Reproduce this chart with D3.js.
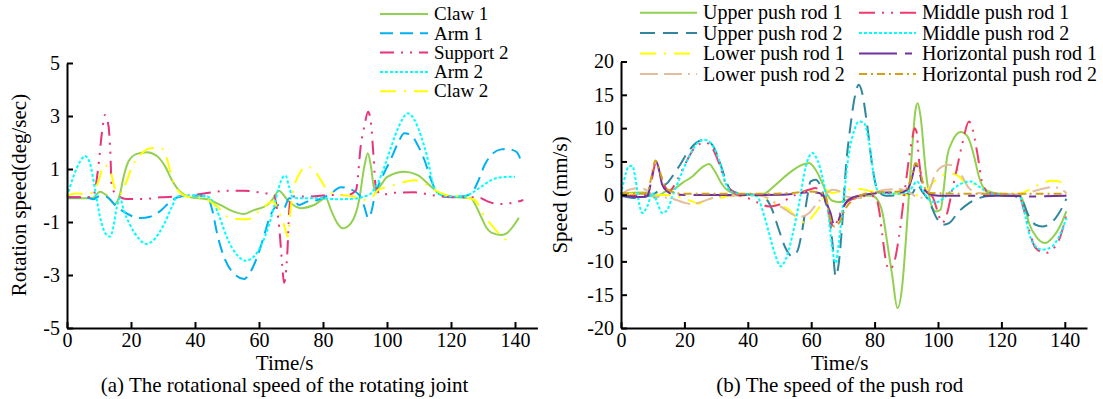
<!DOCTYPE html>
<html><head><meta charset="utf-8">
<script src="https://cdn.jsdelivr.net/npm/d3@7"></script>
<style>
body{margin:0;background:#fff}
svg{display:block}
text{font-family:"Liberation Serif","Times New Roman",serif;fill:#000}
</style>
</head><body>
<svg id="c" width="1103" height="399"></svg>
<script>
// ---------- DATA: (a) rotational speed of rotating joints, [time s, deg/sec] ----------
const leftNames = ["Claw 1", "Arm 1", "Support 2", "Arm 2", "Claw 2"];
const leftXTicks = [0, 20, 40, 60, 80, 100, 120, 140];
const leftYTicks = [-5, -3, -1, 1, 3, 5];

const claw1 = [[0,-0.1],[8,-0.1],[10.3,0.14],[12,0.04],[15,-0.32],[16.6,0.08],[17.7,0.71],[19.2,1.28],[21.8,1.57],[25,1.63],[28.1,1.49],[30.7,1.09],[32.8,0.58],[35.4,0.14],[38.6,-0.07],[43.8,-0.14],[48,-0.36],[52.1,-0.61],[55.3,-0.7],[58.4,-0.55],[62.6,-0.36],[64.5,-0.1],[66.2,0.18],[68.9,-0.17],[71.5,-0.42],[73,-0.48],[77.2,-0.36],[80.9,-0.1],[82.5,-0.55],[84.5,-1.05],[86.1,-1.24],[88.7,-1.05],[91.3,-0.17],[92.9,1.09],[94,1.59],[95,1.09],[96.1,0.21],[97.1,0.27],[100.2,0.71],[105.4,0.9],[109.6,0.77],[113.8,0.33],[116.9,0.04],[122.1,-0.07],[126.3,-0.1],[127.4,-0.3],[129.4,-0.8],[131,-1.2],[132.6,-1.4],[135.7,-1.49],[137.5,-1.42],[139.5,-1.15],[141.2,-0.84]];
const arm1 = [[0,-0.07],[6,-0.07],[8.3,-0.14],[9.8,-0.04],[12,-0.04],[13.5,-0.15],[15,-0.36],[17.7,-0.61],[20.8,-0.8],[22.9,-0.85],[26,-0.8],[29.2,-0.58],[32.3,-0.23],[35.4,-0.04],[39.6,0],[43.8,-0.04],[45.4,-0.55],[46.9,-1.43],[49,-2.3],[52.1,-2.94],[55.3,-3.15],[57.4,-2.87],[59.5,-2.3],[61.5,-1.55],[63.6,-0.74],[65.2,-0.42],[66.2,-0.36],[67.8,-0.48],[69.4,-0.1],[71,-0.17],[72.5,-0.36],[75.1,-0.23],[78.3,-0.17],[82.5,0.08],[85.6,0.31],[88.7,0.23],[91.3,0.02],[92.9,-0.42],[94.2,-0.86],[95.5,-0.42],[96.1,-0.04],[98.1,0.58],[101.3,1.4],[103.4,1.97],[105.4,2.35],[107.5,2.28],[109.6,1.9],[111.7,1.34],[113.8,0.58],[115.9,0.08],[119,-0.04],[123.2,-0.04],[126.3,0.08],[128.4,0.52],[130.5,1.15],[133.1,1.59],[135.7,1.74],[137.5,1.76],[140.4,1.65],[142,1.28]];
const support2 = [[0,-0.07],[8,-0.07],[9.8,1.09],[10.9,2.35],[11.9,3.04],[13,2.6],[13.5,1.72],[14,0.33],[15.6,0.02],[18.7,-0.13],[23.9,-0.13],[29.2,-0.07],[34.4,-0.04],[39.6,0.02],[44.8,0.11],[50.1,0.18],[55.3,0.18],[60.5,0.11],[64.7,0.02],[65.6,-0.5],[66.3,-1.18],[67.3,-2.69],[67.8,-3.29],[68.9,-2.06],[69.4,-0.67],[69.9,-0.04],[72,-0.04],[76.1,-0.04],[82.5,0.02],[88,0.02],[90.3,0.2],[91.9,1.97],[92.9,2.6],[94.1,3.16],[95,2.72],[95.8,1.46],[96.5,0.33],[98.1,0.04],[103.3,0.11],[108.6,0.12],[113.8,0.02],[120.1,-0.07],[128.4,-0.07],[131.6,-0.23],[134.7,-0.32],[138,-0.3],[142.6,-0.17]];
const arm2 = [[0,-0.04],[2,0.71],[4.1,1.28],[5.6,1.49],[7.2,1.21],[8.8,0.2],[10.3,-0.8],[12.4,-1.49],[13.5,-1.55],[14.5,-1.18],[15.6,-0.42],[16.6,-0.1],[17.7,-0.55],[19.7,-1.11],[22.4,-1.62],[24.8,-1.83],[27.1,-1.68],[30.2,-1.11],[32.8,-0.42],[34.4,-0.04],[37.5,0],[43.8,-0.04],[45.9,-0.3],[48,-0.92],[50.1,-1.62],[53.2,-2.25],[55.8,-2.46],[58.4,-2.3],[61,-1.8],[63.1,-1.11],[64.7,-0.42],[66.2,0.3],[67.5,0.7],[68.3,0.75],[69.4,0.33],[70.4,-0.04],[72,-0.1],[79.3,-0.1],[84.5,-0.14],[89.7,-0.12],[92.9,-0.04],[95,0.08],[97.1,0.46],[99.2,1.09],[101.3,1.84],[103.9,2.66],[106.5,3.1],[108.6,2.85],[110.7,2.22],[112.8,1.34],[114.3,0.46],[115.9,0.08],[119,-0.04],[124.2,-0.04],[126.3,0.08],[129.4,0.33],[132.6,0.58],[135.7,0.69],[140,0.71]];
const claw2 = [[0,0],[3,0.08],[6,0.05],[8,0.12],[10,0.6],[11.5,1.15],[13.5,0.95],[15,0.25],[16.6,0.05],[18.5,0.5],[20.3,1.09],[22.9,1.53],[26,1.78],[29.2,1.8],[31.2,1.4],[32.3,0.9],[33.9,0.33],[37.5,-0.04],[42.7,-0.1],[46.9,-0.42],[51.1,-0.86],[56.3,-0.9],[60.5,-0.55],[64.2,-0.23],[66.2,-0.6],[67.8,-1.1],[69,-1.55],[69.8,-0.6],[70.6,0.1],[73,0.9],[74.5,1.09],[76.7,1.03],[79.3,0.58],[81.4,0.2],[84.5,0.04],[89.7,-0.04],[92.3,-0.17],[95,-0.1],[97.1,0.2],[101.3,0.36],[104.4,0.48],[108.6,0.58],[111.7,0.46],[114.8,0.21],[118,0.04],[123.2,-0.04],[127.4,-0.17],[130.5,-0.8],[132.6,-1.11],[134.7,-1.4],[137.8,-1.74]];

// ---------- DATA: (b) speed of push rods, [time s, mm/s] ----------
const rightNames = ["Upper push rod 1", "Upper push rod 2", "Lower push rod 1", "Lower push rod 2",
                    "Middle push rod 1", "Middle push rod 2", "Horizontal push rod 1", "Horizontal push rod 2"];
const rightXTicks = [0, 20, 40, 60, 80, 100, 120, 140];
const rightYTicks = [-20, -15, -10, -5, 0, 5, 10, 15, 20];

const upper1 = [[0,0.15],[6.7,0.35],[9,0.2],[10.9,-0.5],[12,-0.15],[14.1,0.5],[17.2,1],[19.3,1.75],[22.5,2.75],[25.7,4.15],[27.8,4.6],[29.3,3.75],[32,1.5],[34.1,0.5],[38.3,0],[43.5,0],[45.6,0.25],[48.8,1.5],[53,3.25],[57.2,4.5],[59.3,4.75],[61.4,3.75],[63.5,1.75],[65.1,0],[66.7,-0.9],[68.7,-1.1],[70.5,-0.9],[73,-0.5],[76.1,-0.15],[79.2,-0.15],[80.9,-0.75],[82.5,-2.75],[84,-7.25],[85.6,-12.25],[87.2,-17],[88.7,-13.75],[89.8,-7.25],[90.8,-0.25],[91.9,7.25],[92.9,12.75],[93.6,13.75],[94.5,11.75],[96.1,3.75],[97.7,-1.25],[99.3,-2.5],[100.8,-2.25],[101.9,1.25],[102.9,5.75],[104.5,8],[107.2,9.4],[109.3,8.75],[111.4,5.75],[112.9,2.75],[114.5,1],[117.1,0.35],[121.3,0.1],[125.5,0],[127.1,-1.25],[128.7,-4.25],[131.3,-6.5],[133.9,-7.25],[136,-6.5],[138.2,-5],[140.5,-2.5]];
const upper2 = [[0,-0.15],[4.6,-0.5],[8.8,-0.15],[10.9,0.25],[13,1.25],[14.6,1.75],[16.2,2.75],[18.3,4.25],[20.9,6.25],[23.6,7.75],[26.2,8.25],[28.8,7.5],[30.9,5.25],[33,2.25],[34.6,0.75],[38.3,0.1],[43.5,0],[45.6,-0.5],[47.7,-2.25],[49.8,-5.25],[51.9,-8],[54,-9.25],[55.6,-8.5],[57.2,-5.25],[58.8,-0.25],[59.8,2],[61.4,2.25],[63,1.25],[64.6,-1.25],[65.6,-2.75],[66.7,-7.25],[67.7,-12.25],[68.7,-10.25],[69.8,-4.25],[70.9,3.75],[72.5,10.75],[74,15.25],[75,16.5],[76.1,15.25],[77.7,10.25],[79.3,4.25],[80.9,0.75],[83.5,-0.15],[88.7,0],[91.9,0.25],[93.5,1.5],[95,0.5],[97.2,-1],[99.3,-3.25],[101.4,-4.5],[103.5,-4.25],[106.6,-2.5],[109.8,-1.25],[112.9,-0.5],[117.1,-0.15],[123.4,-0.15],[126.6,-1],[128.7,-3.25],[130.8,-4.5],[132.9,-4.75],[135.6,-4.25],[138.2,-2.75],[140.5,-0.6]];
const lower1 = [[0,-0.15],[3,0.15],[7,-0.1],[12,0],[17,-0.15],[19.3,-0.5],[22.5,-1],[24.6,-1.35],[26.7,-0.75],[29.9,-0.5],[32,-0.4],[34.1,-0.1],[40,0],[45,0],[46.7,-1],[49.8,-1.5],[53,-2.25],[56.2,-3.75],[58.3,-4.25],[60.4,-3.25],[62,-2.25],[63.5,-1],[64.6,0.75],[66.7,0.25],[70.9,0.75],[75,0.85],[79.2,0.5],[83.5,0.25],[88.7,0.1],[91.9,-0.15],[94,0],[96.1,0.5],[99.3,2.25],[101.9,3],[104.5,3.15],[106.6,2.75],[108.8,1.75],[112.3,1.5],[114.5,0.75],[117.1,0.15],[121,0],[125.5,0.15],[129.8,1],[132.9,1.75],[136,2.1],[138.2,2],[140.5,1]];
const lower2 = [[0,0],[2.5,0.75],[5.7,1],[7.8,0.75],[10.9,-0.25],[14,-0.4],[17.2,-0.75],[20.4,-1.25],[22.5,-1.4],[25.7,-1],[28.8,-0.5],[33,-0.15],[43,-0.1],[46,-0.4],[48.8,-1.25],[51.9,-2.25],[55.1,-3.15],[57.2,-3.25],[59.3,-2.75],[61.9,-1.25],[63.5,-0.5],[66.7,0.75],[68.5,0.6],[70.9,-0.25],[75,-0.5],[79.2,0.25],[83.5,0.75],[87.7,0.85],[91.3,0.25],[94,-0.5],[96.5,0],[99.3,3.25],[101.4,4.25],[103.5,4.5],[105.6,4],[107.6,2.75],[109.8,1],[112.9,0.25],[118,0],[126,0.05],[131.8,0.75],[136,1.15],[138.2,1],[140.5,0.25]];
const middle1 = [[0,-0.15],[7,-0.05],[8.8,0.75],[9.9,2.75],[10.9,4.75],[12,3.75],[13.6,1.5],[15.1,0.5],[17.2,1.75],[20.4,4.75],[23.6,7.25],[26.7,7.85],[28.8,7],[30.9,4.75],[33,1.75],[35.1,0.5],[38.3,-0.25],[41.4,-0.75],[43.5,-1.25],[46.7,-1.75],[49.8,-1.5],[53,-0.5],[55.1,0],[59.3,0.75],[61.4,1],[63.5,-0.25],[64.5,-0.8],[65.6,-3],[67.2,-4.9],[68.7,-3.25],[70.9,-1.25],[74,-0.5],[78.2,-0.15],[80.3,-0.25],[81.4,-2.25],[82.5,-6.25],[83.5,-9.75],[84.6,-11.25],[86.1,-10.25],[87.7,-6.25],[89.3,-0.25],[90.8,5.25],[91.9,8.5],[92.6,10],[93.2,9.5],[94,5.25],[95.1,1.75],[96.1,0.15],[98.2,-0.25],[99.7,-2.25],[101.3,-4.25],[102.9,-2.75],[104.5,0.75],[106.1,4.25],[107.7,7.75],[109.8,11],[110.8,10],[112.4,6.25],[114,1.75],[116.1,0.25],[121,0],[125.5,-0.15],[127.1,-2.25],[128.7,-5.25],[130.8,-8],[133.9,-8.75],[136,-8.25],[138.2,-6.75],[140.5,-3]];
const middle2 = [[0,0],[1,2.25],[2.5,4.25],[3.6,4.35],[4.6,2.25],[5.7,-1.25],[6.7,-2.75],[8.3,-1.75],[9.9,0.25],[11.5,-1.25],[13,-2.75],[14.6,-2.25],[16.2,-0.25],[18.3,2.25],[21.5,5.75],[24.1,7.75],[26.2,8.25],[28.3,7.75],[30.9,5.25],[33,1.75],[35.1,0.35],[40.4,0],[43,-0.25],[44.6,-2.25],[46.7,-5.75],[48.8,-9.25],[50.4,-10.75],[51.9,-9.75],[54,-6.25],[56.2,-1.25],[58.3,4.25],[60.4,6.25],[61.9,5.25],[63.5,2.75],[65.1,-1.5],[66.7,-8.25],[67.7,-10.25],[68.7,-7.25],[70.3,-0.25],[71.9,6.25],[73.5,9.5],[75,11],[76.7,10.75],[78.3,7.75],[79.8,2.75],[81.4,0.25],[86.6,0.15],[90.8,0.5],[93.4,2],[95.1,0.75],[97.2,-0.75],[99.3,-1.15],[101.9,-0.5],[104.5,0.75],[107.7,1.75],[110.3,2],[112.9,1.25],[116.1,0.25],[121.3,-0.15],[125.5,-0.15],[127.1,-2.25],[128.7,-5.75],[130.8,-7.75],[132.9,-8.25],[136,-7.75],[138.2,-6.25],[140.5,-3.5]];
const horiz1 = [[0,-0.15],[3,-0.25],[7,-0.35],[8.5,0],[9.4,1.75],[10.4,4.25],[11.1,5],[12,3.75],[13,1.5],[14.6,0.5],[17.2,0],[25,-0.05],[40,-0.05],[50.9,0],[55.1,0.15],[59.3,0.4],[62.5,0.25],[64,-0.25],[64.6,-1],[66.1,-2.75],[67.2,-4.5],[68.2,-4.25],[69.8,-2.25],[71.8,-0.75],[75.1,-0.15],[79.2,0.15],[83.5,0.35],[87.7,0.3],[90.3,0.75],[91.9,2.75],[92.9,4.5],[94,3.75],[95.1,1.5],[97.2,0.15],[100.3,-0.15],[120,-0.15],[130,-0.25],[140.5,-0.15]];
const horiz2 = [[0,0.25],[7,0.15],[8.5,0.6],[9.4,2.25],[10.9,5.15],[12,3.9],[13.6,1.5],[15.1,0.65],[19.3,0.15],[30,0.15],[45,0.15],[54,0.25],[59.3,0.5],[62.5,0.4],[64.6,-0.25],[65.6,-2.75],[67.2,-4.75],[68.5,-4.4],[70.9,-2],[74,-0.5],[79.2,0.35],[87.7,0.5],[90.3,1],[91.9,3.25],[92.9,4.75],[94.5,3.25],[95.6,1.25],[97.7,0.25],[110,0.15],[125,0.15],[140.5,0.15]];

const leftSeries = [claw1, arm1, support2, arm2, claw2];
const rightSeries = [upper1, upper2, lower1, lower2, middle1, middle2, horiz1, horiz2];

// ---------- STYLES ----------
const leftColors = ["#92D050", "#00B0F0", "#E5337D", "#00FFFF", "#FFFF00"];
const leftDashes = [null, "13,7", "14,7,2,7,2,7", "3,2", "16,8,2,8"];
const rightColors = ["#92D050", "#31859C", "#FFFF00", "#E3BD9E", "#EE3B6B", "#00FFFF", "#7030A0", "#D4A017"];
const rightDashes = [null, "15,8", "16,8,2,8", "18,6,18,6,2,6", "16,7,2,7,2,7", "3,2", "38,8,7,8", "8,4,2,4"];

const svg = d3.select("#c");
const FS_TICK = 20, FS_TXT = 21, FS_LEG = 20, FS_LEG_L = 19;

function panel(cfg) {
  const x = d3.scaleLinear().domain([0, 147]).range(cfg.xr);
  const y = d3.scaleLinear().domain(cfg.yd).range(cfg.yr);
  const g = svg.append("g");

  const line = d3.line().x(d => x(d[0])).y(d => y(d[1])).curve(d3.curveMonotoneX);
  cfg.series.forEach((s, i) => {
    g.append("path").attr("d", line(s)).attr("fill", "none")
      .attr("stroke", cfg.colors[i]).attr("stroke-width", 2)
      .attr("stroke-dasharray", cfg.dashes[i]);
  });

  const fmt = d => String(d);
  const ax = g.append("g").attr("transform", `translate(0,${cfg.yr[0]})`)
    .call(d3.axisBottom(x).tickValues(cfg.xticks).tickFormat(fmt).tickSizeInner(-6).tickSizeOuter(0).tickPadding(5));
  const ay = g.append("g").attr("transform", `translate(${cfg.xr[0]},0)`)
    .call(d3.axisLeft(y).tickValues(cfg.yticks).tickFormat(fmt).tickSizeInner(-6).tickSizeOuter(0).tickPadding(7));
  [ax, ay].forEach(a => {
    a.attr("font-family", null).attr("font-size", null);
    a.selectAll("path.domain").attr("stroke", "#000").attr("stroke-width", 2);
    a.selectAll(".tick line").attr("stroke", "#000").attr("stroke-width", 2);
    a.selectAll("text").attr("font-size", FS_TICK).attr("fill", "#000");
  });

  g.append("text").attr("x", x(cfg.midT)).attr("y", 370).attr("text-anchor", "middle")
    .attr("font-size", FS_TXT).text("Time/s");
  g.append("text").attr("x", x(cfg.midT)).attr("y", 392).attr("text-anchor", "middle")
    .attr("font-size", FS_TXT).text(cfg.caption);
  g.append("text").attr("transform", `translate(${cfg.ytitleX},195) rotate(-90)`)
    .attr("text-anchor", "middle").attr("font-size", FS_TXT).text(cfg.ytitle);
  return g;
}

panel({xr: [67, 67 + 147 * 3.2], yd: [-5, 5], yr: [328, 63], series: leftSeries,
  colors: leftColors, dashes: leftDashes, xticks: leftXTicks, yticks: leftYTicks,
  midT: 68, caption: "(a) The rotational speed of the rotating joint",
  ytitle: "Rotation speed(deg/sec)", ytitleX: 26});
panel({xr: [621, 621 + 147 * 3.17], yd: [-20, 20], yr: [328, 61.5], series: rightSeries,
  colors: rightColors, dashes: rightDashes, xticks: rightXTicks, yticks: rightYTicks,
  midT: 69, caption: "(b) The speed of the push rod",
  ytitle: "Speed (mm/s)", ytitleX: 567});

// ---------- LEGENDS ----------
function legendItem(x0, x1, y, color, dash, label, fs) {
  svg.append("line").attr("x1", x0).attr("x2", x1).attr("y1", y).attr("y2", y)
    .attr("stroke", color).attr("stroke-width", 2).attr("stroke-dasharray", dash);
  svg.append("text").attr("x", x1 + 6).attr("y", y).attr("dy", "0.33em")
    .attr("font-size", fs).text(label);
}
leftNames.forEach((n, i) => legendItem(380, 428, 14 + i * 19.3, leftColors[i], leftDashes[i], n, FS_LEG_L));
rightNames.forEach((n, i) => {
  const col = Math.floor(i / 4), row = i % 4;
  const x0 = col === 0 ? 640 : 859, x1 = col === 0 ? 697 : 916;
  legendItem(x0, x1, 12.7 + row * 20.4, rightColors[i], rightDashes[i], n, FS_LEG);
});
</script>
</body></html>
